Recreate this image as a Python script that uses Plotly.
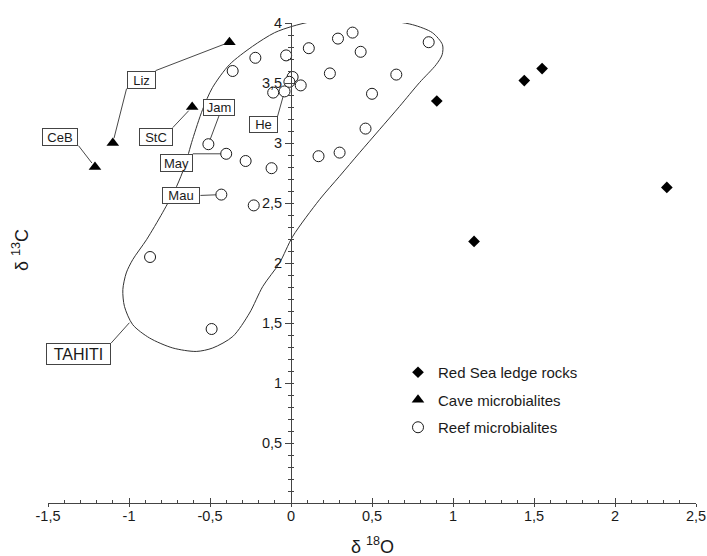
import plotly.graph_objects as go

# ---------------- data ----------------
redsea_x = [0.90, 1.44, 1.55, 2.32, 1.13]
redsea_y = [3.35, 3.52, 3.62, 2.63, 2.18]

cave_x = [-0.38, -1.10, -1.21, -0.61]
cave_y = [3.84, 3.00, 2.80, 3.30]

reef_x = [-0.51, -0.40, -0.43, -0.04, -0.36, -0.22, -0.03, 0.11, 0.29, 0.38,
          0.24, 0.01, -0.01, 0.06, -0.11, -0.28, -0.12, 0.17, 0.30, -0.23,
          -0.87, 0.43, 0.65, 0.85, 0.50, 0.46, -0.49]
reef_y = [2.99, 2.91, 2.57, 3.43, 3.60, 3.71, 3.73, 3.79, 3.87, 3.92,
          3.58, 3.55, 3.51, 3.48, 3.42, 2.85, 2.79, 2.89, 2.92, 2.48,
          2.05, 3.76, 3.57, 3.84, 3.41, 3.12, 1.45]

tahiti_x = [0.007, 0.133, 0.341, 0.546, 0.750, 0.873, 0.935, 0.933, 0.896, 0.793,
            0.670, 0.546, 0.423, 0.299, 0.176, 0.011, -0.071, -0.174, -0.256, -0.359,
            -0.483, -0.585, -0.730, -0.873, -0.977, -1.028, -1.038, -1.017, -0.977, -0.892,
            -0.793, -0.707, -0.657, -0.608, -0.546, -0.485, -0.380, -0.238, -0.102, 0.007]
tahiti_y = [3.972, 4.013, 4.036, 4.028, 3.986, 3.919, 3.819, 3.736, 3.653, 3.503,
            3.305, 3.111, 2.919, 2.722, 2.528, 2.222, 2.000, 1.805, 1.583, 1.388,
            1.292, 1.263, 1.292, 1.375, 1.486, 1.638, 1.778, 1.917, 2.028, 2.194,
            2.419, 2.636, 2.803, 3.028, 3.278, 3.461, 3.653, 3.805, 3.919, 3.972]

# site labels: text, point (x, y), label anchor (x, y), anchor sides, box size
label_text = ["Liz", "Liz", "CeB", "StC", "Jam", "May", "Mau", "He", "TAHITI"]
label_px = [-0.38, -1.10, -1.21, -0.61, -0.51, -0.40, -0.43, -0.04, -0.977]
label_py = [3.84, 3.00, 2.80, 3.30, 2.99, 2.91, 2.57, 3.43, 1.533]
label_ax = [-0.836, -1.015, -1.312, -0.730, -0.444, -0.606, -0.559, -0.083, -1.11]
label_ay = [3.603, 3.453, 2.978, 3.128, 3.228, 2.91, 2.563, 3.222, 1.333]
label_xanchor = ["right", "left", "right", "right", "center", "right", "right", "right", "right"]
label_yanchor = ["top", "bottom", "bottom", "top", "bottom", "top", "middle", "top", "top"]
label_w = [29, 29, 36, 34, 32, 33, 38, 29, 65]
label_h = [18, 18, 18, 18, 17, 18, 17, 17, 22]
label_fs = [13, 13, 13, 13, 13, 13, 13, 13, 16]

x_tickvals = [-1.5, -1, -0.5, 0, 0.5, 1, 1.5, 2, 2.5]
x_ticktext = ["-1,5", "-1", "-0,5", "0", "0,5", "1", "1,5", "2", "2,5"]
y_tickvals = [0.5, 1, 1.5, 2, 2.5, 3, 3.5, 4]
y_ticktext = ["0,5", "1", "1,5", "2", "2,5", "3", "3,5", "4"]

FONT = "Liberation Sans, Arial, Helvetica, sans-serif"
INK = "#1a1a1a"
AX = "#444444"

W, H = 707, 556
L, R, T, B = 48, 11, 23, 53
PW = W - L - R
PH = H - T - B

fig = go.Figure()

fig.add_trace(go.Scatter(
    x=tahiti_x, y=tahiti_y, mode="lines",
    line=dict(color="#333333", width=1, shape="spline", smoothing=0.8),
    showlegend=False, hoverinfo="skip"))

fig.add_trace(go.Scatter(
    x=reef_x, y=reef_y, mode="markers", name="Reef microbialites",
    legendrank=3, legendgroup="c",
    marker=dict(symbol="circle", size=11, color="white",
                line=dict(color=INK, width=1))))

fig.add_trace(go.Scatter(
    x=cave_x, y=cave_y, mode="markers", name="Cave microbialites",
    legendrank=2, legendgroup="b",
    marker=dict(symbol="triangle-up", size=11, color="black")))

fig.add_trace(go.Scatter(
    x=redsea_x, y=redsea_y, mode="markers", name="Red Sea ledge rocks",
    legendrank=1, legendgroup="a",
    marker=dict(symbol="diamond", size=9, color="black")))

annotations = []
for t, px, py, ax_, ay_, xa, ya, w, h, fs in zip(
        label_text, label_px, label_py, label_ax, label_ay,
        label_xanchor, label_yanchor, label_w, label_h, label_fs):
    annotations.append(dict(
        x=px, y=py, xref="x", yref="y", ax=ax_, ay=ay_, axref="x", ayref="y",
        text=t, showarrow=True, arrowhead=0, arrowwidth=0.9, arrowcolor="#333333",
        standoff=5, xanchor=xa, yanchor=ya, width=w - 2, height=h - 2,
        bordercolor="#444444", borderwidth=1, borderpad=0, bgcolor="white",
        font=dict(family=FONT, size=fs, color=INK)))

# axis titles
annotations.append(dict(
    x=(20 - L) / PW, y=(H - B - 250) / PH, xref="paper", yref="paper",
    text="δ <sup>13</sup>C", textangle=-90, showarrow=False,
    xanchor="center", yanchor="middle",
    font=dict(family=FONT, size=18, color=INK)))
annotations.append(dict(
    x=0.5, y=(H - B - 545) / PH, xref="paper", yref="paper",
    text="δ <sup>18</sup>O", showarrow=False,
    xanchor="center", yanchor="middle",
    font=dict(family=FONT, size=18, color=INK)))

fig.update_layout(
    width=W, height=H,
    margin=dict(l=L, r=R, t=T, b=B, autoexpand=False),
    paper_bgcolor="white", plot_bgcolor="white",
    font=dict(family=FONT, size=15, color=INK),
    separators=", ",
    showlegend=True,
    legend=dict(x=(398 - L) / PW, y=(H - B - 356) / PH, xanchor="left", yanchor="top",
                bgcolor="rgba(0,0,0,0)", font=dict(family=FONT, size=15, color=INK),
                traceorder="grouped", tracegroupgap=5),
    annotations=annotations,
    xaxis=dict(range=[-1.5, 2.5], showgrid=False, zeroline=False,
               showline=True, linecolor=AX, linewidth=1,
               tickmode="array", tickvals=x_tickvals, ticktext=x_ticktext,
               ticks="inside", ticklen=5, tickcolor=AX, ticklabeloverflow="allow",
               minor=dict(tickmode="linear", tick0=0, dtick=0.1, ticks="inside",
                          ticklen=3, tickcolor=AX),
               tickfont=dict(family=FONT, size=14.5, color=INK)),
    xaxis2=dict(range=[-1.5, 2.5], overlaying="x", anchor="y", side="bottom",
                showgrid=False, zeroline=False, showline=False, showticklabels=False,
                tickmode="array", tickvals=x_tickvals,
                ticks="outside", ticklen=3, tickcolor=AX),
    yaxis=dict(range=[0, 4], anchor="free", position=1.5 / 4,
               showgrid=False, zeroline=False,
               showline=True, linecolor=AX, linewidth=1,
               tickmode="array", tickvals=y_tickvals, ticktext=y_ticktext,
               ticks="outside", ticklen=6, tickcolor=AX,
               minor=dict(tickmode="linear", tick0=0, dtick=0.1, ticks="outside",
                          ticklen=3, tickcolor=AX),
               tickfont=dict(family=FONT, size=14.5, color=INK)),
    yaxis2=dict(range=[0, 4], overlaying="y", anchor="free", position=1.5 / 4,
                showgrid=False, zeroline=False, showline=False, showticklabels=False,
                tickmode="array", tickvals=y_tickvals,
                ticks="inside", ticklen=2, tickcolor=AX,
                minor=dict(tickmode="linear", tick0=0, dtick=0.1, ticks="inside",
                           ticklen=2, tickcolor=AX)),
)

# invisible helper trace so the overlay axes are drawn
fig.add_trace(go.Scatter(x=[None], y=[None], xaxis="x2", yaxis="y2",
                         showlegend=False, hoverinfo="skip"))

# remove the default page margin so the 707x556 figure fills the window exactly
fig.write_html(
    "out.html",
    config={"displayModeBar": False},
    post_script="document.body.style.margin='0px';document.body.style.overflow='hidden';")
